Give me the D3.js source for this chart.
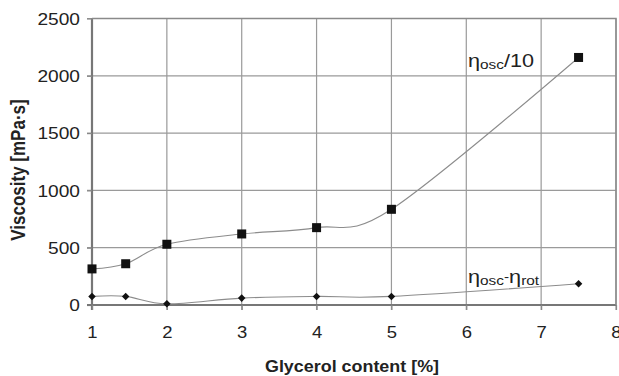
<!DOCTYPE html>
<html>
<head>
<meta charset="utf-8">
<script src="https://cdn.jsdelivr.net/npm/d3@7"></script>
<style>
  html, body { margin: 0; padding: 0; background: #fff; }
  svg { display: block; font-family: "Liberation Sans", Arial, sans-serif; }
</style>
</head>
<body>
<svg id="chart" width="619" height="376"></svg>
<script>
// Glycerol content (%) at each measurement
const glycerol = [1, 1.45, 2, 3, 4, 5, 7.5];
// Oscillatory viscosity divided by 10 (mPa·s)
const etaOscDiv10 = [315, 360, 530, 620, 675, 835, 2160];
// Difference between oscillatory and rotational viscosity (mPa·s)
const etaDiff = [75, 75, 10, 60, 75, 75, 185];
// Axis ticks
const xTickValues = [1, 2, 3, 4, 5, 6, 7, 8];
const yTickValues = [0, 500, 1000, 1500, 2000, 2500];

const svg = d3.select("#chart");
const plotLeft = 92, plotRight = 616, plotTop = 18.5, plotBottom = 305;
const stretch = 1.14;   // wide-set lettering

const x = d3.scaleLinear().domain([1, 8]).range([plotLeft, plotRight]);
const y = d3.scaleLinear().domain([0, 2500]).range([plotBottom, plotTop]);

// Gridlines
const grid = svg.append("g");
grid.selectAll("line.v").data(xTickValues.slice(1)).join("line")
  .attr("x1", d => x(d)).attr("x2", d => x(d))
  .attr("y1", plotTop).attr("y2", plotBottom + 5)
  .attr("stroke", "#9a9a9a").attr("stroke-width", 1.2);
grid.selectAll("line.h").data(yTickValues.slice(1)).join("line")
  .attr("x1", plotLeft - 5).attr("x2", plotRight)
  .attr("y1", d => y(d)).attr("y2", d => y(d))
  .attr("stroke", "#9a9a9a").attr("stroke-width", 1.2);

// Y axis
const yAxis = svg.append("g")
  .attr("transform", `translate(${plotLeft},0)`)
  .call(d3.axisLeft(y).tickValues(yTickValues).tickSize(5).tickFormat(d3.format("d")));
yAxis.select(".domain").attr("stroke", "#777").attr("stroke-width", 2.2)
  .attr("d", `M0,${plotTop}V${plotBottom + 5}`);
yAxis.selectAll(".tick line").attr("stroke", "#888").attr("stroke-width", 1.2);
yAxis.selectAll(".tick text")
  .attr("x", -12 / stretch).attr("dy", "0.34em")
  .attr("transform", `scale(${stretch},1)`)
  .attr("font-size", 16.8).attr("fill", "#222")
  .attr("font-family", "Liberation Sans, Arial, sans-serif");

// X axis
const xAxis = svg.append("g")
  .attr("transform", `translate(0,${plotBottom})`)
  .call(d3.axisBottom(x).tickValues(xTickValues).tickSize(5).tickFormat(d3.format("d")));
xAxis.select(".domain").attr("stroke", "#777").attr("stroke-width", 2.2)
  .attr("d", `M${plotLeft - 5},0H${plotRight}`);
xAxis.selectAll(".tick line").attr("stroke", "#888").attr("stroke-width", 1.2);
xAxis.selectAll(".tick text")
  .attr("y", 33).attr("dy", null)
  .attr("transform", `scale(${stretch},1)`)
  .attr("font-size", 16.2).attr("fill", "#222")
  .attr("font-family", "Liberation Sans, Arial, sans-serif");

// Top and right frame
svg.append("path")
  .attr("d", `M${plotLeft},${plotTop}H${plotRight}V${plotBottom}`)
  .attr("fill", "none").attr("stroke", "#8a8a8a").attr("stroke-width", 1.5);

// Series lines (smoothed)
const line = vals => d3.line()
  .x((d, i) => x(glycerol[i]))
  .y(d => y(d))
  .curve(d3.curveCardinal.tension(0))(vals);

svg.append("path").attr("d", line(etaOscDiv10))
  .attr("fill", "none").attr("stroke", "#8c8c8c").attr("stroke-width", 1.1);
svg.append("path").attr("d", line(etaDiff))
  .attr("fill", "none").attr("stroke", "#8c8c8c").attr("stroke-width", 1.1);

// Markers
svg.append("g").selectAll("rect").data(etaOscDiv10).join("rect")
  .attr("x", (d, i) => x(glycerol[i]) - 4.5)
  .attr("y", d => y(d) - 4.5)
  .attr("width", 9).attr("height", 9)
  .attr("fill", "#111");
svg.append("g").selectAll("path").data(etaDiff).join("path")
  .attr("transform", (d, i) => `translate(${x(glycerol[i])},${y(d)})`)
  .attr("d", d3.symbol(d3.symbolDiamond2, 36))
  .attr("fill", "#111");

// Series labels
const lab1 = svg.append("text")
  .attr("transform", `translate(468,66.7) scale(${stretch},1)`)
  .attr("font-size", 19).attr("fill", "#222");
lab1.append("tspan").text("η");
lab1.append("tspan").attr("font-size", 13.5).attr("dy", 2.5).text("osc");
lab1.append("tspan").attr("dy", -2.5).text("/10");

const lab2 = svg.append("text")
  .attr("transform", `translate(468,282.5) scale(${stretch},1)`)
  .attr("font-size", 19).attr("fill", "#222");
lab2.append("tspan").text("η");
lab2.append("tspan").attr("font-size", 13.5).attr("dy", 2.5).text("osc");
lab2.append("tspan").attr("font-size", 13.5).attr("dy", -4).text("-");
lab2.append("tspan").attr("dy", 1.5).text("η");
lab2.append("tspan").attr("font-size", 13.5).attr("dy", 2.5).text("rot");

// Axis titles
svg.append("text")
  .attr("transform", `translate(352,371.5) scale(1.12,1)`)
  .attr("text-anchor", "middle").attr("font-size", 16).attr("font-weight", "bold")
  .attr("fill", "#222").text("Glycerol content [%]");
svg.append("text")
  .attr("transform", `translate(25,170) scale(${stretch},1) rotate(-90)`)
  .attr("text-anchor", "middle").attr("font-size", 17).attr("font-weight", "bold")
  .attr("fill", "#222").text("Viscosity [mPa·s]");
</script>
</body>
</html>
